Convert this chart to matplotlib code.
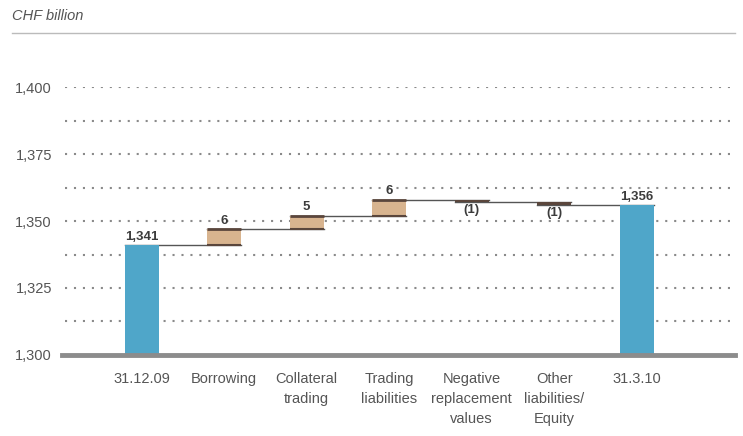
import numpy as np
import matplotlib.pyplot as plt

categories = ["31.12.09", "Borrowing", "Collateral\ntrading", "Trading\nliabilities",
              "Negative\nreplacement\nvalues", "Other\nliabilities/\nEquity", "31.3.10"]
start_value = 1341
changes = [6, 5, 6, -1, -1]
end_value = 1356
change_labels = ["6", "5", "6", "(1)", "(1)"]
yticks = [1300, 1325, 1350, 1375, 1400]

plt.rcParams['font.family'] = ['Liberation Sans', 'DejaVu Sans']

fig = plt.figure(figsize=(7.43, 4.36), dpi=100)
ax = fig.add_axes([0.083, 0.186, 0.906, 0.614])

blue = "#4fa6c9"
tan = "#d8b48f"
edge = "#5a463c"
txt = "#3c3c3c"
w = 0.41
x = np.arange(len(categories))

# dotted grid every 12.5
for g in np.arange(1312.5, 1401, 12.5):
    ax.axhline(g, xmin=0.005, xmax=1, color="#8a8a8a", lw=1.5,
               ls=(0, (1, 3.3)), zorder=0)

# start and end bars
ax.bar(x[0], start_value - 1300, w, bottom=1300, color=blue, zorder=2)
ax.bar(x[-1], end_value - 1300, w, bottom=1300, color=blue, zorder=2)
ax.text(x[0], start_value + 0.8, f"{start_value:,}", ha="center", va="bottom",
        fontsize=9.5, fontweight="bold", color=txt)
ax.text(x[-1], end_value + 0.8, f"{end_value:,}", ha="center", va="bottom",
        fontsize=9.5, fontweight="bold", color=txt)

levels = [start_value]
for c in changes:
    levels.append(levels[-1] + c)

for i, c in enumerate(changes):
    xi = x[i + 1]
    lo, hi = sorted([levels[i], levels[i + 1]])
    if c > 0:
        ax.bar(xi, hi - lo, w, bottom=lo, color=tan, zorder=2)
        ax.plot([xi - w / 2, xi + w / 2], [hi, hi], color=edge, lw=2, zorder=3,
                solid_capstyle="butt")
        ax.plot([xi - w / 2, xi + w / 2], [lo, lo], color=edge, lw=1.5, zorder=3,
                solid_capstyle="butt")
        ax.text(xi, hi + 0.9, change_labels[i], ha="center", va="bottom",
                fontsize=9.5, fontweight="bold", color=txt)
    else:
        ax.bar(xi, hi - lo, w, bottom=lo, color=edge, zorder=2)
        ax.text(xi, lo - 0.6, change_labels[i], ha="center", va="top",
                fontsize=9.5, fontweight="bold", color=txt)

# connector lines
for i, lv in enumerate(levels):
    ax.plot([x[i] - w / 2, x[i + 1] + w / 2], [lv, lv], color="#555555",
            lw=1, zorder=1)

ax.set_xlim(-0.97, 7.19)
ax.set_ylim(1300, 1400)
ax.set_yticks(yticks)
ax.set_yticklabels([f"{t:,}" for t in yticks], fontsize=10.5, color="#555555")
ax.set_xticks(x)
ax.set_xticklabels(categories, fontsize=10.5, color="#555555", linespacing=1.55)
ax.tick_params(length=0, pad=7)
ax.tick_params(axis="x", pad=12)
for s in ["top", "right", "left"]:
    ax.spines[s].set_visible(False)
ax.spines["bottom"].set_color("#8c8c8c")
ax.spines["bottom"].set_linewidth(3.5)
ax.spines["bottom"].set_zorder(4)

fig.text(0.016, 0.963, "CHF billion", fontsize=10.5, style="italic",
         color="#555555", va="center")
fig.add_artist(plt.Line2D([0.016, 0.989], [0.924, 0.924], color="#bbbbbb", lw=1))

fig.savefig("out.png", dpi=100)
